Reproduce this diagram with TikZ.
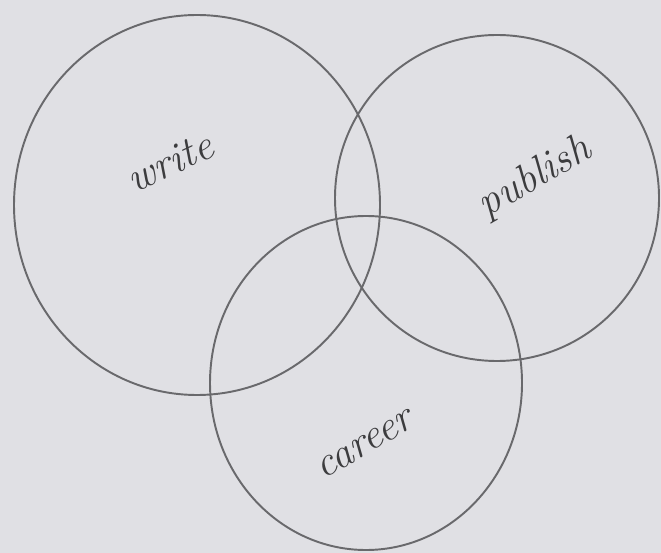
\documentclass[tikz,border=0pt]{standalone}
\usepackage{xcolor}
\usepackage{tikz}
\definecolor{paper}{RGB}{224, 224, 228}
\definecolor{pencil}{RGB}{105, 105, 108}
\definecolor{inkgray}{RGB}{60, 60, 62}

\begin{document}
\begin{tikzpicture}[
    x=0.02cm, y=-0.02cm,
    ring/.style={draw=pencil, line width=1.1pt},
    word/.style={font=\fontsize{24}{28}\selectfont\itshape, text=inkgray}
]
  \fill[paper] (0,0) rectangle (661,553);
  \useasboundingbox (0,0) rectangle (661,553);

  % Circles
  \draw[ring] (197,205) ellipse [x radius=183, y radius=190];
  \draw[ring] (497,198) ellipse [x radius=162, y radius=163];
  \draw[ring] (366,383) ellipse [x radius=156, y radius=167];

  % Labels
  \node[word, rotate=25] (write)   at (170,162) {write};
  \node[word, rotate=30] (publish) at (535,178) {publish};
  \node[word, rotate=30] (career)  at (365,445) {career};
\end{tikzpicture}
\end{document}
